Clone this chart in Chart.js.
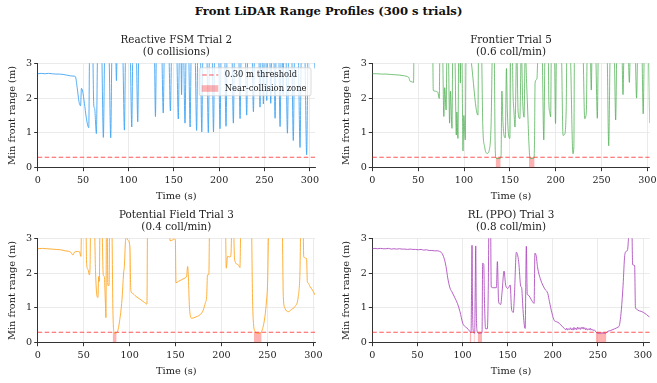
<!DOCTYPE html>
<html>
<head>
<meta charset="utf-8">
<script src="https://cdn.jsdelivr.net/npm/chart.js@4.4.0/dist/chart.umd.min.js"></script>
<style>
  body { margin: 0; background: #fff; width: 657px; height: 383px; position: relative; overflow: hidden; }
  #suptitle { position: absolute; top: 4px; left: 0; width: 657px; text-align: center;
              font: bold 11.6px 'DejaVu Serif', serif; line-height: 15px; color: #111; }
  canvas { position: absolute; }
</style>
</head>
<body>
<div id="suptitle">Front LiDAR Range Profiles (300 s trials)</div>
<canvas id="c_fsm" width="328" height="172" style="left:0px;top:33px"></canvas>
<canvas id="c_frontier" width="328" height="172" style="left:334px;top:33px"></canvas>
<canvas id="c_pf" width="328" height="172" style="left:0px;top:208px"></canvas>
<canvas id="c_ppo" width="328" height="172" style="left:334px;top:208px"></canvas>
<script>
const X_TICKS = [0, 50, 100, 150, 200, 250, 300];
const Y_TICKS = [0, 1, 2, 3];
const THRESHOLD = 0.30;

// Reactive FSM trial 2 (values above 3 m run off the top of the axes)
const fsmTime = [0, 4, 8, 12, 16, 20, 24, 28, 32, 36, 40, 41.5, 43.5, 45.5, 46.5, 47.3, 48.2, 49.5, 51.5, 53.5, 55.3, 56.3, 57.3,
  60.5, 61.8, 62.8, 64.7, 66.2, 70.3, 72.4, 74.0, 78.3, 80.5, 82.0, 85.8, 86.8, 87.8, 93.5, 95.6, 97.0,
  101.7, 103.7, 105.0, 108.5, 110.3, 111.5, 128.5, 129.8, 131.0, 136.5, 138.4, 139.8, 144.3, 146.3, 147.8,
  153.0, 155.0, 156.4, 157.8, 158.6, 159.4, 160.6, 162.4, 163.8, 166.2, 168.0, 169.4, 173.3, 175.2, 176.6,
  179.2, 180.9, 182.3, 186.2, 188.1, 189.5, 192.1, 193.8, 195.2, 199.2, 201.0, 202.4, 205.9, 207.6, 209.0,
  213.9, 215.7, 217.1, 221.4, 223.1, 224.5, 228.7, 230.4, 231.8, 236.1, 237.8, 239.2, 243.5, 245.1, 246.4,
  247.6, 248.8, 250.0, 251.3, 252.5, 253.7, 255.6, 256.9, 258.1, 260.1, 261.7, 263.0, 265.5, 267.2, 268.6,
  269.6, 270.5, 271.4, 273.4, 275.3, 276.8, 279.8, 281.8, 283.3, 287.0, 289.2, 290.8, 294.2, 296.5, 298.2,
  303.8, 305.7];
const fsmRange = [2.70, 2.71, 2.70, 2.71, 2.70, 2.69, 2.69, 2.68, 2.66, 2.64, 2.63, 2.62, 2.30, 1.90, 1.80, 1.78, 2.28, 2.20, 1.85, 1.45, 1.20, 1.15, 3.5,
  3.5, 1.80, 1.70, 0.98, 3.5, 3.5, 0.87, 3.5, 3.5, 0.86, 3.5, 3.5, 2.50, 3.5, 3.5, 1.08, 3.5,
  3.5, 1.17, 3.5, 3.5, 1.32, 3.5, 3.5, 1.47, 3.5, 3.5, 1.57, 3.5, 3.5, 1.63, 3.5,
  3.5, 1.40, 3.5, 3.5, 2.10, 3.5, 3.5, 1.28, 3.5, 3.5, 1.17, 3.5, 3.5, 1.07, 3.5,
  3.5, 1.03, 3.5, 3.5, 1.01, 3.5, 3.5, 1.03, 3.5, 3.5, 1.12, 3.5, 3.5, 1.19, 3.5,
  3.5, 1.28, 3.5, 3.5, 1.41, 3.5, 3.5, 1.51, 3.5, 3.5, 1.61, 3.5, 3.5, 1.74, 3.5,
  3.5, 1.83, 3.5, 3.5, 1.93, 3.5, 3.5, 1.85, 3.5, 3.5, 1.42, 3.5, 3.5, 1.18, 3.5,
  3.5, 2.10, 3.5, 3.5, 0.99, 3.5, 3.5, 0.78, 3.5, 3.5, 0.58, 3.5, 3.5, 0.37, 3.5,
  3.5, 2.85];
const fsmZones = [];

// Frontier trial 5
const frontierTime = [0, 5, 10, 15, 20, 25, 30, 35, 38, 40, 41, 43, 45, 45.5,
  65.8, 66.5, 68, 70, 71.5, 73, 73.8, 76.5, 78.0, 79.0, 80.5, 81.5, 82.8, 84.3, 85.2, 86.9, 87.8,
  89.8, 91.6, 92.2, 93.4, 94.3, 95.5, 96.0, 96.6, 97.6, 98.9, 99.8, 101.4, 102.3,
  106.5, 115.2, 115.9, 118.9, 120.5, 122.5, 125.4, 127.5, 129.5, 131.2,
  132.8, 134.0, 134.8, 137.0, 139.5, 140.4, 141.3, 142.5, 143.5, 145.0, 146.3, 147.3, 148.8, 150.0, 151.0,
  152.5, 153.5, 154.5, 155.6, 157.5, 159.0, 160.9, 162.5, 164.0, 165.5, 166.8, 168.3, 169.5, 170.8, 171.8,
  173.0, 175.0, 176.4, 177.0, 177.5, 179.5, 181.0, 185.0, 187.0, 188.5, 191.8, 192.5, 193.5, 194.5, 195.3,
  198.5, 199.8, 201.0, 206.0, 208.0, 209.5, 211.5, 212.2, 215.5, 218.8, 219.8, 220.5, 229.5, 231.6, 233.4, 234.5,
  237.5, 238.8, 239.8, 243.3, 245.4, 246.6, 255.8, 257.8, 259.6, 263.6, 265.4, 266.8, 272.0, 273.4, 274.6,
  278.8, 280.3, 281.6, 286.4, 288.2, 289.6, 293.8, 295.4, 296.8, 300.8, 302.5];
const frontierRange = [2.70, 2.70, 2.69, 2.69, 2.68, 2.67, 2.66, 2.64, 2.62, 2.58, 2.49, 2.47, 2.45, 3.5,
  3.5, 2.22, 2.20, 2.19, 2.16, 1.99, 3.5, 3.5, 1.47, 2.30, 1.66, 3.5, 3.5, 1.28, 2.20, 1.13, 3.5,
  3.5, 0.94, 1.60, 0.84, 3.5, 3.5, 2.43, 3.5, 3.5, 0.48, 1.50, 0.80, 3.5,
  3.3, 1.51, 3.5, 3.5, 1.20, 0.60, 0.41, 0.50, 1.20, 3.5,
  3.5, 0.60, 0.28, 0.26, 0.27, 0.35, 2.20, 1.30, 0.95, 0.86, 2.85, 1.60, 0.90, 0.84, 3.5,
  3.5, 2.09, 1.60, 1.17, 3.5, 1.60, 1.41, 3.5, 1.90, 1.45, 3.5, 2.42, 1.60, 0.70, 0.30,
  0.26, 0.27, 0.28, 1.00, 2.43, 2.55, 3.5, 3.5, 0.80, 3.5, 3.5, 1.90, 1.60, 1.46, 3.5,
  3.5, 1.27, 3.5, 3.5, 0.93, 0.95, 1.75, 3.5, 3.5, 0.40, 0.60, 3.5, 3.5, 1.41, 1.60, 3.5,
  3.5, 2.23, 3.5, 3.5, 1.42, 3.5, 3.5, 0.63, 3.5, 3.5, 1.37, 3.5, 3.5, 2.10, 3.5,
  3.5, 2.45, 3.5, 3.5, 2.00, 3.5, 3.5, 1.55, 3.5, 3.5, 1.28];
const frontierZones = [[134.5, 140.0], [170.8, 177.0]];

// Potential field trial 3
const pfTime = [0, 5, 10, 15, 20, 25, 30, 33, 36, 38.3, 40, 43, 45.5, 47, 47.8,
  52.4, 53.3, 54.8, 56.2, 57.0, 57.6, 61.5, 63.0, 64.6, 65.6, 66.3, 67.1, 67.8,
  69.8, 71.3, 72.5, 73.6, 74.3, 74.8, 75.6, 76.3, 77.7, 78.3,
  80.6, 81.8, 82.8, 83.5, 85.2, 87.0, 89.0, 91.7, 93.5, 94.3, 95.5, 96.5, 98.0, 100.4, 101.3, 103.0, 107.0, 112.4, 116.0, 118.9, 119.6,
  143.5, 144.0, 146.5, 148.8, 149.8, 150.5, 153.0, 156.7, 160.3, 162.1, 163.2, 163.9, 165.0, 165.7, 167.5, 171.2, 174.0, 176.6, 180.2, 182.5, 183.9, 184.8, 186.3, 187.1,
  204.3, 205.2, 206.7, 209.2, 210.3, 211.5, 212.9, 214.3, 218.3, 220.1, 221.2,
  232.5, 233.8, 234.6, 236.5, 238.3, 240.0, 241.9, 244.4, 247.3, 249.0, 250.2, 251.7,
  266.0, 267.3, 269.1, 272.7, 276.4, 280.0, 283.6, 285.4, 286.5,
  288.8, 289.5, 291.6, 292.6, 293.5, 294.5, 296.3, 300.0, 301.8];
const pfRange = [2.70, 2.71, 2.70, 2.69, 2.68, 2.67, 2.64, 2.63, 2.60, 2.52, 2.60, 2.62, 2.61, 2.48, 3.5,
  3.5, 2.24, 2.10, 1.95, 2.20, 3.5, 3.5, 2.00, 1.33, 1.30, 1.90, 1.76, 3.5,
  3.5, 1.95, 1.90, 1.20, 0.72, 3.5, 3.5, 1.65, 1.65, 3.5,
  3.5, 1.00, 0.32, 0.27, 0.28, 0.33, 0.60, 1.23, 2.00, 2.19, 2.90, 3.05, 2.95, 2.75, 1.52, 1.42, 1.33, 1.23, 1.16, 1.11, 3.5,
  3.5, 2.93, 2.95, 2.98, 2.95, 1.72, 1.76, 1.81, 1.86, 1.92, 2.19, 1.95, 1.10, 0.85, 0.70, 0.73, 0.76, 0.80, 0.94, 1.15, 1.33, 1.95, 1.96, 3.5,
  3.5, 2.14, 2.48, 2.46, 2.52, 3.5, 3.5, 2.38, 2.24, 2.16, 3.5,
  3.5, 1.30, 0.65, 0.32, 0.27, 0.26, 0.27, 0.37, 0.75, 1.20, 1.71, 3.5,
  3.5, 1.33, 0.99, 0.89, 0.96, 1.04, 1.33, 2.00, 3.5,
  3.5, 2.48, 2.43, 2.42, 1.75, 1.71, 1.62, 1.47, 1.37];
const pfZones = [[81.6, 85.9], [235.4, 243.7]];

// RL (PPO) trial 3
const ppoTime = [0, 3, 6, 9, 12, 15, 18, 21, 24, 27, 30, 33, 36, 39, 42, 45, 48, 51, 54, 57, 60, 63, 66, 69, 72, 74,
  76.9, 79.5, 81.7, 83.6, 86.1, 88.3, 91.7, 94.3, 97.2, 100.2, 102.0, 104.6, 107.6, 109.4,
  110.0, 110.5, 111.0, 111.6, 112.3, 113.0, 113.5, 114.0, 114.6, 115.2, 116.0, 116.8, 118.5, 120.5, 121.6,
  122.3, 123.5, 124.3, 125.5, 127.5, 128.5, 129.3, 131.0, 131.8, 134.0, 137.5, 138.6, 140.0, 142.3, 143.8,
  146.0, 147.8, 150.4, 152.8, 154.2, 155.3, 156.2, 157.5, 159.6, 162.2, 164.5, 165.5, 167.0, 168.2, 169.4,
  170.7, 171.7, 172.6, 177.5, 179.3, 180.2, 181.8, 183.0, 186.7, 191.0, 194.5, 196.3, 199.0, 201.8, 204.5,
  207.0, 210.7, 213.2, 214.5, 215.5, 216.5, 217.5, 218.5, 219.5, 220.5, 221.5, 222.5, 223.5, 224.5, 225.5,
  226.5, 227.5, 228.5, 229.5, 230.5, 231.5, 232.5, 233.5, 234.5, 235.5, 236.5, 237.5, 238.5, 239.5, 240.5,
  241.5, 242.5, 243.5, 244.5, 245.8, 247.7, 248.5, 251.4, 255.0, 258.8, 259.5, 260.6, 264.0, 268.7, 272.4,
  273.6, 274.5, 276.0, 277.9, 279.7, 281.6, 282.8, 284.2, 285.5, 287.5, 288.5, 290.7, 291.6, 292.6, 294.5,
  298.0, 300.5, 303.8, 305.5, 307.4];
const ppoRange = [2.70, 2.71, 2.70, 2.71, 2.70, 2.70, 2.71, 2.69, 2.70, 2.69, 2.70, 2.69, 2.69, 2.68, 2.69, 2.68, 2.68, 2.67, 2.68, 2.66, 2.67, 2.65, 2.65, 2.64, 2.64, 2.63,
  2.58, 2.43, 2.19, 1.86, 1.57, 1.46, 1.28, 1.13, 0.89, 0.56, 0.48, 0.43, 0.34, 0.29,
  1.50, 2.80, 1.20, 0.40, 0.29, 0.27, 0.29, 1.50, 2.78, 1.00, 0.35, 0.29, 0.27, 0.28, 0.29,
  2.28, 2.26, 1.20, 0.40, 0.40, 1.50, 3.5, 3.5, 1.60, 1.58, 1.58, 2.33, 1.17, 1.10, 1.46,
  2.06, 1.65, 1.56, 1.66, 1.00, 0.89, 0.87, 1.37, 2.60, 2.33, 1.62, 1.58, 0.95, 0.56, 0.41,
  2.77, 1.40, 1.37, 1.18, 1.13, 2.57, 2.47, 2.19, 1.80, 1.55, 1.41, 1.18, 0.86, 0.63, 0.60,
  0.56, 0.46, 0.40, 0.37, 0.42, 0.36, 0.40, 0.38, 0.43, 0.37, 0.41, 0.36, 0.44, 0.38, 0.42,
  0.37, 0.45, 0.39, 0.43, 0.38, 0.44, 0.40, 0.45, 0.39, 0.43, 0.37, 0.41, 0.36, 0.40, 0.37,
  0.42, 0.36, 0.39, 0.35, 0.37, 0.31, 0.29, 0.27, 0.28, 0.27, 0.29, 0.32, 0.35, 0.40, 0.45,
  0.48, 0.60, 0.95, 1.65, 2.50, 2.63, 2.66, 3.10, 3.5, 3.5, 2.24, 2.22, 1.00, 0.97, 0.93,
  0.90, 0.87, 0.81, 0.77, 0.74];
const ppoZones = [[107.9, 109.8], [112.3, 113.5], [116.8, 121.6], [247.6, 259.4]];

Chart.defaults.font.family = "'DejaVu Serif', serif";
Chart.defaults.color = '#222';

// legend box drawn inside the axes (upper right), like an in-plot legend
const inAxesLegend = {
    id: 'inAxesLegend',
    afterDatasetsDraw(chart, args, opts) {
        if (!opts.show) return;
        const ctx = chart.ctx;
        const area = chart.chartArea;
        const seen = {};
        const items = chart.data.datasets.filter(d => {
            if (!d.legendKind || seen[d.label]) return false;
            seen[d.label] = true;
            return true;
        });
        ctx.save();
        ctx.font = "8.4px 'DejaVu Serif'";
        const textW = Math.max(...items.map(d => ctx.measureText(d.label).width));
        const w = 26 + textW + 4, h = 28;
        const x = area.right - 4 - w, y = area.top + 4.5;
        ctx.beginPath();
        ctx.roundRect(x, y, w, h, 2);
        ctx.fillStyle = 'rgba(255,255,255,0.8)';
        ctx.fill();
        ctx.strokeStyle = '#d0d0d0';
        ctx.lineWidth = 0.8;
        ctx.stroke();
        items.forEach((d, i) => {
            const cy = y + 7.2 + i * 13.5;
            if (d.legendKind === 'line') {
                ctx.strokeStyle = d.borderColor;
                ctx.lineWidth = d.borderWidth;
                ctx.setLineDash(d.borderDash);
                ctx.beginPath();
                ctx.moveTo(x + 3, cy);
                ctx.lineTo(x + 19, cy);
                ctx.stroke();
                ctx.setLineDash([]);
            } else {
                ctx.fillStyle = d.backgroundColor;
                ctx.fillRect(x + 2.5, cy - 3.3, 16.5, 6.6);
            }
            ctx.fillStyle = '#222';
            ctx.textBaseline = 'middle';
            ctx.fillText(d.label, x + 25.5, cy);
        });
        ctx.restore();
    }
};

function lidar_panel(id, title, subtitle, times, ranges, zones, xMax, color, yAxisWidth, padRight, showLegend) {
    const datasets = [];
    datasets.push({
        label: '0.30 m threshold',
        data: [{x: 0, y: THRESHOLD}, {x: xMax, y: THRESHOLD}],
        borderColor: 'rgba(255,30,30,0.75)',
        borderWidth: 1.2,
        borderDash: [4.5, 2.5],
        pointRadius: 0,
        order: 0,
        legendKind: 'line'
    });
    datasets.push({
        label: 'Min front range',
        data: times.map((t, i) => ({x: t, y: ranges[i]})),
        borderColor: color,
        borderWidth: 1,
        pointRadius: 0,
        cubicInterpolationMode: 'monotone',
        order: 1
    });
    // an empty zone set still gives the legend its patch entry
    const zoneList = zones.length ? zones : [null];
    zoneList.forEach(z => {
        datasets.push({
            label: 'Near-collision zone',
            data: z ? [{x: z[0], y: THRESHOLD}, {x: z[1], y: THRESHOLD}] : [],
            borderWidth: 0,
            borderColor: 'rgba(0,0,0,0)',
            backgroundColor: 'rgba(255,0,0,0.3)',
            fill: 'origin',
            pointRadius: 0,
            order: 2,
            legendKind: 'patch'
        });
    });

    new Chart(document.getElementById(id), {
        type: 'line',
        data: { datasets: datasets },
        plugins: [inAxesLegend],
        options: {
            responsive: false,
            animation: false,
            layout: { padding: { left: 0, right: padRight, top: 0, bottom: 0 } },
            plugins: {
                legend: { display: false },
                tooltip: { enabled: false },
                inAxesLegend: { show: showLegend },
                title: {
                    display: true,
                    text: [title, subtitle],
                    fullSize: false,
                    color: '#222',
                    font: { size: 10.4, weight: 'normal', lineHeight: 1.12 },
                    padding: { top: 1.8, bottom: 5.2 }
                }
            },
            scales: {
                x: {
                    type: 'linear',
                    min: 0,
                    max: xMax,
                    afterBuildTicks: s => { s.ticks = X_TICKS.map(v => ({value: v})); },
                    afterFit: s => { s.height = 37.3; },
                    ticks: { font: { size: 9.6 }, padding: 3.5, maxRotation: 0, callback: v => String(v) },
                    grid: { color: '#e6e6e6', lineWidth: 0.8, tickColor: '#333', tickLength: 3.5, tickWidth: 1 },
                    border: { color: '#333', width: 1 },
                    title: { display: true, text: 'Time (s)', font: { size: 9.8, lineHeight: 1.2 }, padding: { top: 0, bottom: 3.1 } }
                },
                y: {
                    min: 0,
                    max: 3,
                    afterBuildTicks: s => { s.ticks = Y_TICKS.map(v => ({value: v})); },
                    afterFit: s => { s.width = yAxisWidth; },
                    ticks: { font: { size: 9.6 }, padding: 2, callback: v => String(v) },
                    grid: { color: '#e6e6e6', lineWidth: 0.8, tickColor: '#333', tickLength: 3.5, tickWidth: 1 },
                    border: { color: '#333', width: 1 },
                    title: { display: true, text: 'Min front range (m)', font: { size: 9.8, lineHeight: 1.2 }, padding: { top: 6.4, bottom: 0 } }
                }
            }
        }
    });
}

lidar_panel('c_fsm', 'Reactive FSM Trial 2', '(0 collisions)', fsmTime, fsmRange, fsmZones, 305.7, 'rgba(66,165,245,0.9)', 37.7, 13, true);
lidar_panel('c_frontier', 'Frontier Trial 5', '(0.6 coll/min)', frontierTime, frontierRange, frontierZones, 302.5, 'rgba(76,175,80,0.75)', 38.3, 12.3, false);
lidar_panel('c_pf', 'Potential Field Trial 3', '(0.4 coll/min)', pfTime, pfRange, pfZones, 301.8, 'rgba(255,167,38,0.9)', 37.7, 13, false);
lidar_panel('c_ppo', 'RL (PPO) Trial 3', '(0.8 coll/min)', ppoTime, ppoRange, ppoZones, 307.4, 'rgba(171,71,188,0.85)', 38.3, 12.3, false);
</script>
</body>
</html>
